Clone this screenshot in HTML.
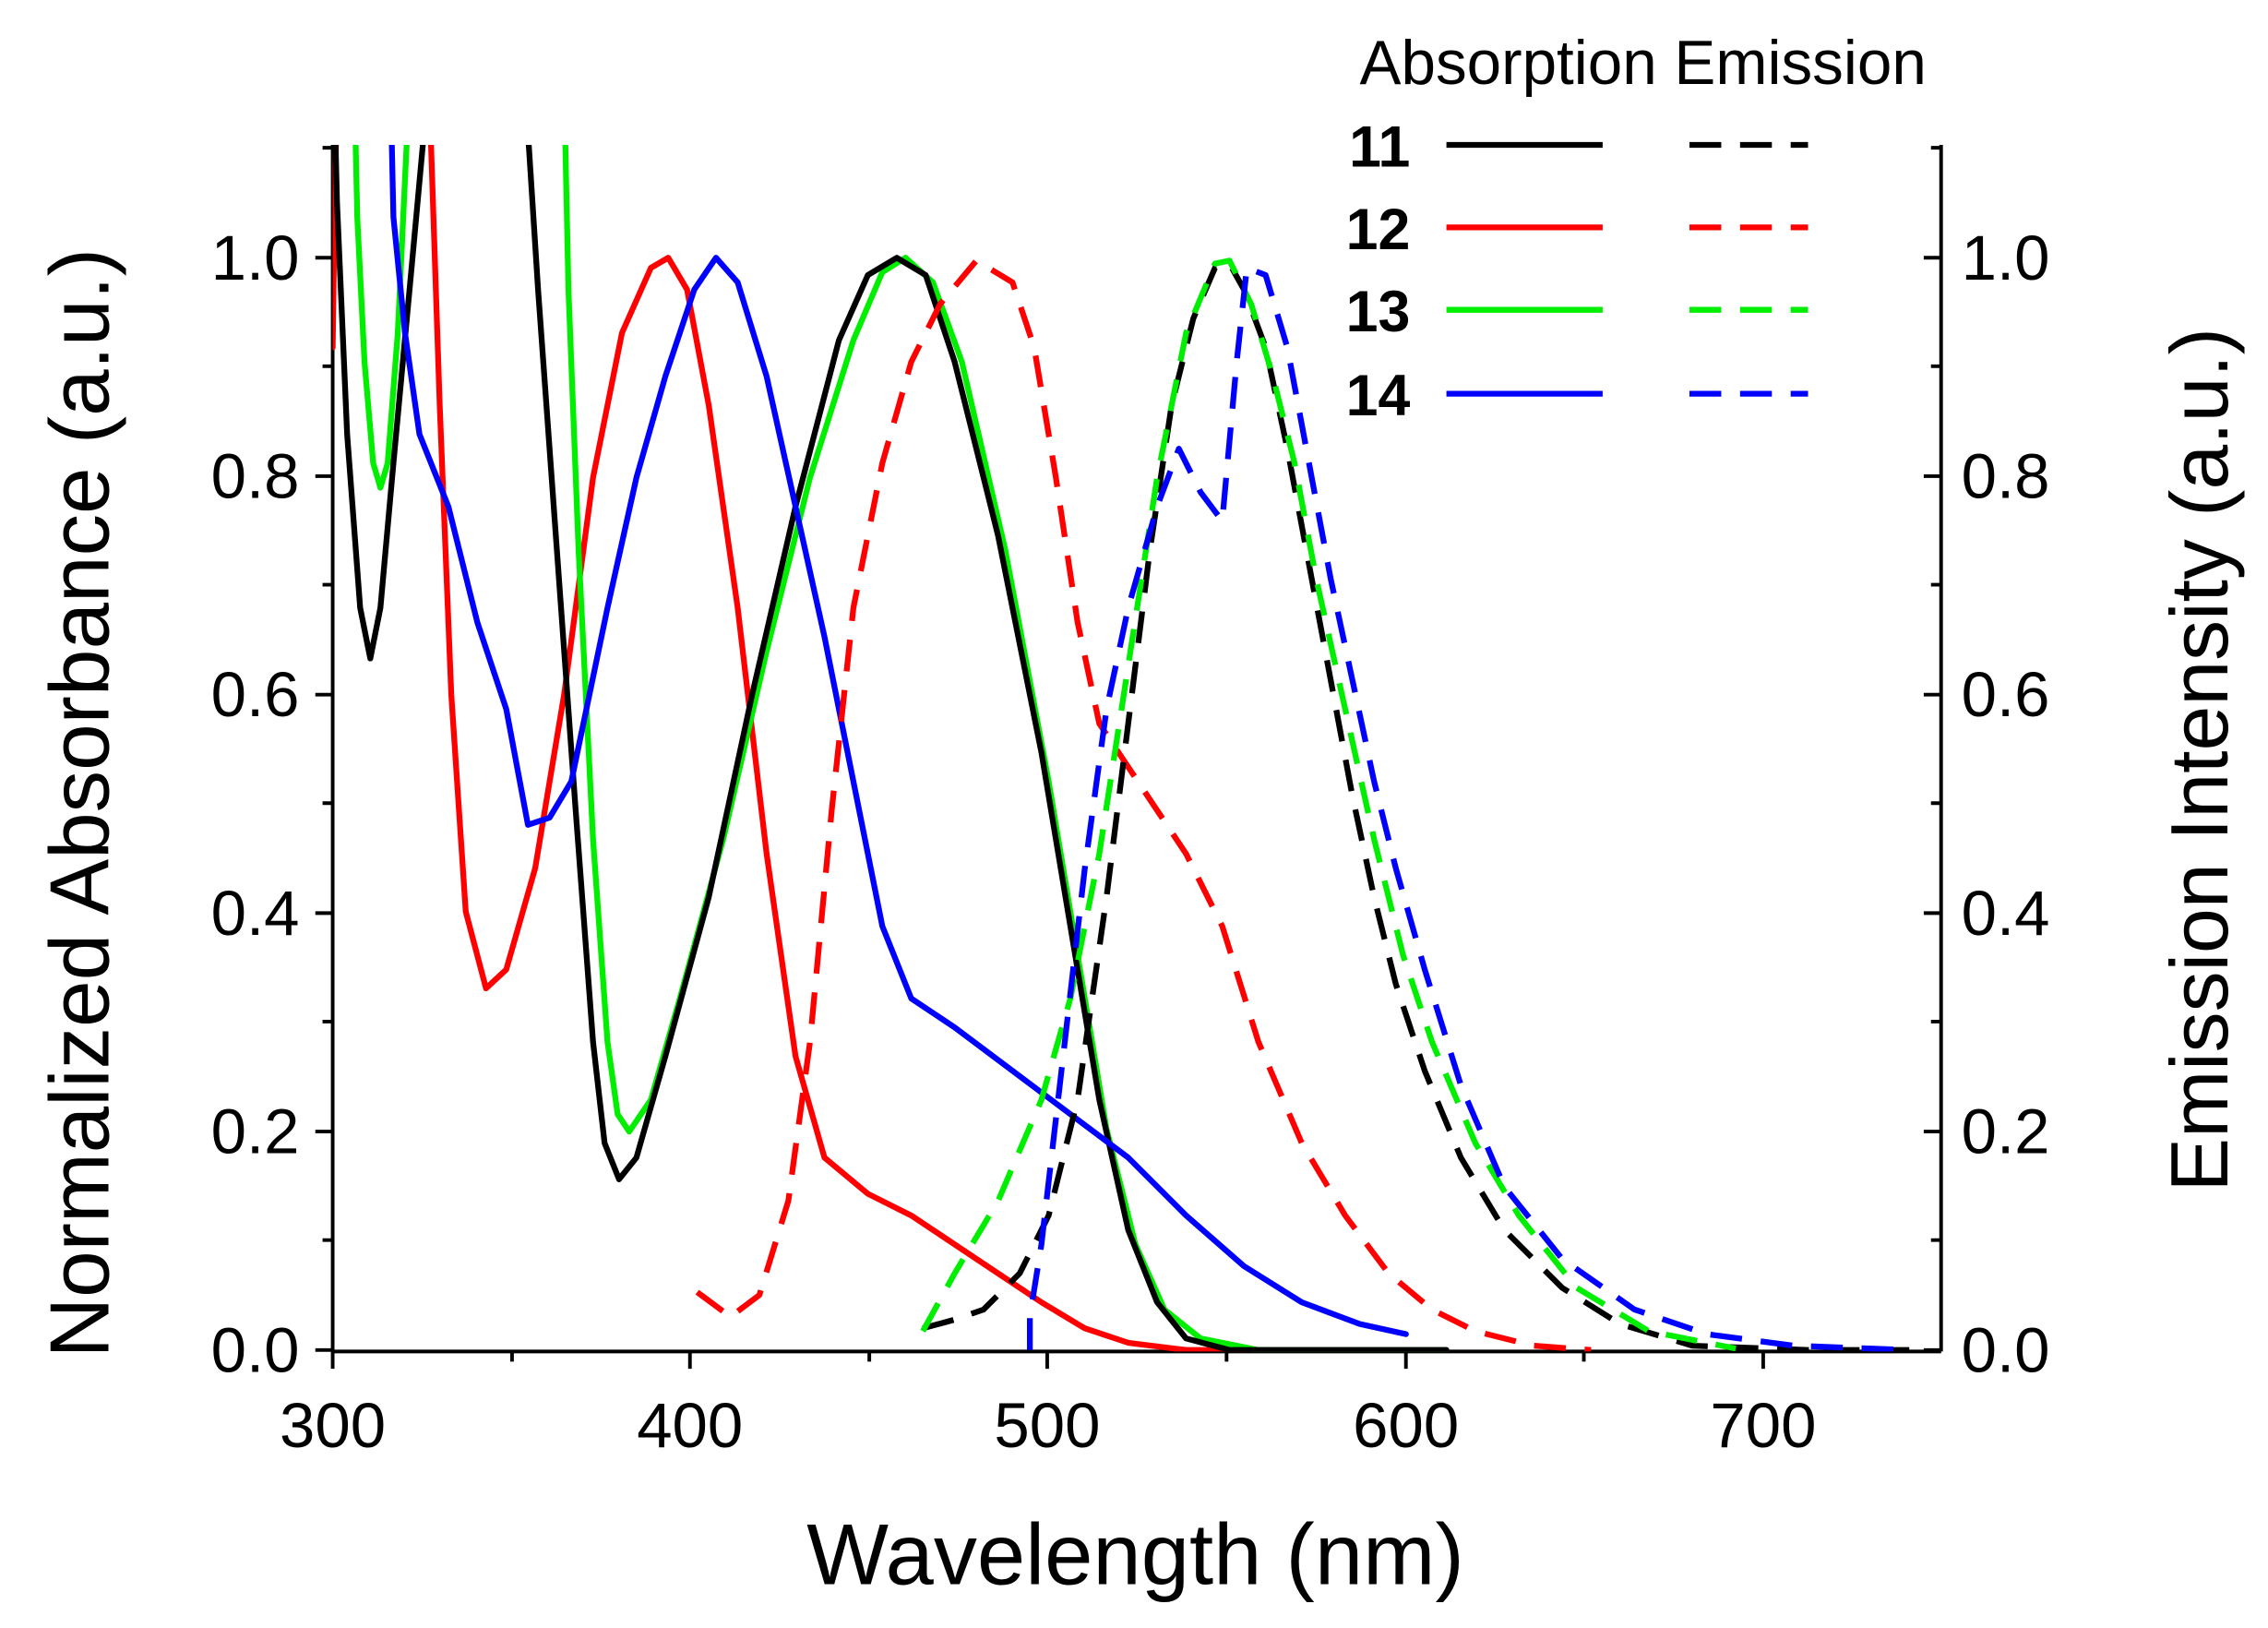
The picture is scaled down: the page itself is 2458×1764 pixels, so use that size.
<!DOCTYPE html>
<html><head><style>html,body{margin:0;padding:0;background:#fff}svg{display:block}</style></head>
<body>
<svg width="2458" height="1764" viewBox="0 0 1568 1125" xmlns="http://www.w3.org/2000/svg" font-family="Liberation Sans, Arial, sans-serif">
<defs><clipPath id="c"><rect x="230" y="100" width="1112" height="834"/></clipPath></defs>
<rect width="1568" height="1125" fill="#fff"/>
<g stroke="#000" stroke-width="2.5" fill="none">
<line x1="230" y1="100" x2="230" y2="934"/>
<line x1="1342" y1="100" x2="1342" y2="934"/>
<line x1="230" y1="934" x2="1342" y2="934"/>
<path d="M230 933h-12M230 782h-12M230 631h-12M230 480h-12M230 329h-12M230 178h-12M230 857h-7M230 706h-7M230 555h-7M230 404h-7M230 253h-7M230 102h-7
M1342 933h-12M1342 782h-12M1342 631h-12M1342 480h-12M1342 329h-12M1342 178h-12M1342 857h-7M1342 706h-7M1342 555h-7M1342 404h-7M1342 253h-7M1342 102h-7
M230 934v12M477 934v12M724 934v12M972 934v12M1219 934v12M354 934v7M601 934v7M848 934v7M1095 934v7"/>
</g>
<g font-size="44" text-anchor="end" fill="#000">
<text x="207" y="948">0.0</text><text x="207" y="797">0.2</text><text x="207" y="646">0.4</text><text x="207" y="495">0.6</text><text x="207" y="344">0.8</text><text x="207" y="193">1.0</text>
</g>
<g font-size="44" text-anchor="start" fill="#000">
<text x="1356" y="948">0.0</text><text x="1356" y="797">0.2</text><text x="1356" y="646">0.4</text><text x="1356" y="495">0.6</text><text x="1356" y="344">0.8</text><text x="1356" y="193">1.0</text>
</g>
<g font-size="44" text-anchor="middle" fill="#000">
<text x="230" y="1000">300</text><text x="477" y="1000">400</text><text x="724" y="1000">500</text><text x="972" y="1000">600</text><text x="1219" y="1000">700</text>
</g>
<text x="785" y="1095" font-size="60" text-anchor="middle">Wavelength (nm)</text>
<text transform="translate(75,555) rotate(-90)" font-size="58" text-anchor="middle">Normalized Absorbance (a.u.)</text>
<text transform="translate(1540,525) rotate(-90)" font-size="56" text-anchor="middle">Emission Intensity (a.u.)</text>
<g clip-path="url(#c)" fill="none" stroke-width="4" stroke-linejoin="round" stroke-linecap="round">
<polyline stroke="#ff0000" points="230,240 231,170 233,60 294,60 298,100 304,280 312,480 322,630 336,683 350,670 370,600 390,480 410,330 430,230 450,185 462,178 475,200 490,280 510,420 530,590 550,730 570,800 600,825 630,840 660,860 690,880 720,900 750,918 780,928 820,933 1000,933"/>
<polyline stroke="#00ee00" points="245,60 247,150 252,250 258,320 263,337 268,320 275,230 283,60 390,60 393,200 400,380 410,580 420,720 427,770 435,782 450,760 470,690 500,580 530,450 560,330 590,235 610,188 626,178 645,195 665,250 695,380 725,540 745,660 765,780 785,860 805,905 830,925 870,933 1000,933"/>
<polyline stroke="#000000" points="231,60 233,140 240,300 249,420 256,455 263,420 272,320 285,180 296,60 363,60 372,200 385,380 398,560 410,720 418,790 428,815 440,800 460,730 490,620 520,480 550,350 580,235 600,190 620,178 640,190 660,250 690,370 720,520 740,640 760,760 780,850 800,900 820,925 850,933 1000,933"/>
<polyline stroke="#0000ff" points="270,60 272,150 280,230 290,300 310,350 330,430 350,490 365,570 380,565 395,540 420,420 440,330 460,260 480,200 495,178 510,195 530,260 550,350 570,440 590,540 610,640 630,690 660,710 700,740 740,770 780,800 820,840 860,875 900,900 940,915 972,922"/>
<g stroke-dasharray="22,13" stroke-linecap="butt">
<polyline stroke="#ff0000" points="482,893 505,910 525,895 545,830 560,720 575,560 590,420 610,320 630,250 650,210 675,180 700,195 715,240 730,330 745,430 760,500 780,530 800,560 820,590 845,640 870,720 900,790 930,840 960,880 990,905 1020,920 1060,930 1100,933"/>
<polyline stroke="#000000" points="638,918 660,912 680,905 705,880 725,840 745,760 765,620 780,500 795,380 810,280 825,220 840,185 850,182 860,200 875,240 890,310 905,390 920,470 935,550 950,620 965,680 985,740 1010,800 1040,850 1080,890 1120,915 1170,930 1250,933 1320,933"/>
<polyline stroke="#00ee00" points="638,920 660,880 690,830 720,760 740,690 760,590 780,460 800,330 820,230 840,182 850,180 865,210 880,260 895,320 910,400 930,490 950,580 970,660 990,720 1020,790 1050,840 1090,890 1140,920 1200,932"/>
<polyline stroke="#0000ff" points="712,933 712,910 720,860 735,730 750,600 765,490 780,420 800,350 815,310 830,340 845,360 855,250 862,185 875,190 890,240 905,320 920,400 935,470 950,540 965,600 985,670 1010,750 1040,820 1080,870 1130,905 1180,922 1240,930 1320,933"/>
</g>
</g>
<text x="940" y="58" font-size="43">Absorption Emission</text>
<g font-size="40" font-weight="bold" text-anchor="end">
<text x="975" y="115">11</text><text x="975" y="172">12</text><text x="975" y="229">13</text><text x="975" y="287">14</text>
</g>
<g stroke-width="4">
<line x1="1000" y1="100" x2="1108" y2="100" stroke="#000"/><line x1="1168" y1="100" x2="1250" y2="100" stroke="#000" stroke-dasharray="22,13"/>
<line x1="1000" y1="157" x2="1108" y2="157" stroke="#f00"/><line x1="1168" y1="157" x2="1250" y2="157" stroke="#f00" stroke-dasharray="22,13"/>
<line x1="1000" y1="214" x2="1108" y2="214" stroke="#0e0"/><line x1="1168" y1="214" x2="1250" y2="214" stroke="#0e0" stroke-dasharray="22,13"/>
<line x1="1000" y1="272" x2="1108" y2="272" stroke="#00f"/><line x1="1168" y1="272" x2="1250" y2="272" stroke="#00f" stroke-dasharray="22,13"/>
</g>
</svg>
</body></html>
